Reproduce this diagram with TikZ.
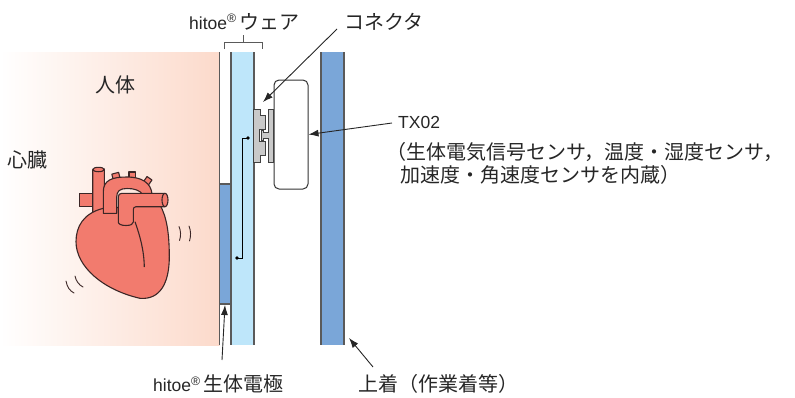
\documentclass[tikz,border=0pt]{standalone}
\usepackage{fontspec}
\setmainfont{Liberation Sans}
\newfontfamily\jp{Noto Sans CJK JP}[Scale=1.143]
\usetikzlibrary{arrows.meta}

\definecolor{skin}{HTML}{FCDACB}
\definecolor{wearblue}{HTML}{BEE6FA}
\definecolor{clothblue}{HTML}{7AA6D8}
\definecolor{edgegray}{HTML}{5A5A5A}
\definecolor{partgray}{HTML}{C9C9C9}
\definecolor{heartred}{HTML}{F27B6E}
\definecolor{heartline}{HTML}{3B2626}

\begin{document}
\begin{tikzpicture}[x=1pt, y=-1pt]
\tikzstyle{every node}=[font=\fontsize{17.5}{21}\selectfont, inner sep=0pt, anchor=base west, text=black!85]
\tikzstyle{edge}=[draw=edgegray, line width=1.2pt]
\tikzstyle{callout}=[draw=black!85, line width=0.9pt, -{Latex[length=10pt, width=7pt]}]
\tikzstyle{heart}=[draw=heartline, line width=1.1pt, fill=heartred, line join=round]
\tikzstyle{plug}=[draw=black!75, line width=0.8pt, fill=partgray]

\useasboundingbox (0, 0) rectangle (795, 397);

\shade[left color=white, right color=skin] (0, 52) rectangle (219.5, 345); % body
    \node (bodylabel) at (95, 92.5) {\jp 人体};
    \node (heartlabel) at (7, 167) {\jp 心臓};
\draw[edge] (219.5, 52) -- (219.5, 345);

\draw[edge, fill=clothblue] (219.5, 184) rectangle (231, 304); % electrode

\fill[wearblue] (231, 52) rectangle (254, 345); % shirt
\draw[edge] (231, 52) -- (231, 345) (254, 52) -- (254, 345);
\draw[edge, line width=1pt] (224, 49) -- (224, 42) -- (262.5, 42) -- (262.5, 49) (243, 42) -- (243, 35);
    \node (wearlabel) at (189, 29) {hitoe\textsuperscript{®}\,{\jp ウェア}};

\fill[clothblue] (321, 52) rectangle (344, 345); % jacket
\draw[edge] (321, 52) -- (321, 345) (344, 52) -- (344, 345);

% heart
\draw[heart] (79.3, 193.3) rectangle (96, 206.7);
\draw[heart] (92.7, 214) -- (92.7, 170) -- (104.3, 169) -- (104.3, 214) -- cycle;
\draw[heart] (98.5, 169.5) ellipse [x radius=5.8pt, y radius=2.2pt];
\draw[heart] (103.3, 208.3) .. controls (83.3, 213.3) and (76, 226.7) .. (76, 241.7)
    .. controls (76, 266.7) and (103.3, 290) .. (140, 298.3)
    .. controls (160, 300) and (169.3, 283.3) .. (169.3, 256.7)
    .. controls (169.3, 233.3) and (166.7, 216.7) .. (160, 205) -- cycle;
\draw[heart, rotate around={15:(117, 180)}] (113.5, 173) rectangle (120.5, 183);
\draw[heart] (129, 172) rectangle (135.5, 182);
\draw[heart, rotate around={-35:(145.5, 184)}] (142.5, 177) rectangle (148.5, 188);
\draw[heart] (103.3, 213.3) -- (103.3, 192) .. controls (103.3, 180) and (112, 177) .. (127, 177)
    .. controls (142, 177) and (151, 183) .. (152, 194) -- (143, 195)
    .. controls (140, 190) and (134, 188.5) .. (127, 188.5)
    .. controls (120, 188.5) and (116.7, 191) .. (116.7, 197) -- (116.7, 213.3) -- cycle;
\draw[heart] (118.3, 197) .. controls (118.3, 194.5) and (119.5, 193.3) .. (122, 193.3) -- (165, 193.3)
    -- (165, 206.7) -- (136, 206.7) .. controls (134, 206.7) and (133.3, 208) .. (133.3, 210)
    -- (133.3, 222) .. controls (133.3, 224) and (131, 225.5) .. (126, 225.5)
    .. controls (121, 225.5) and (118.3, 224) .. (118.3, 222) -- cycle;
\draw[heart] (165, 200) ellipse [x radius=3pt, y radius=6.7pt];
\draw[heartline, line width=1.1pt] (135, 221.7) .. controls (140, 236) and (144, 250) .. (144.3, 267);
\draw[heartline, line width=0.9pt, line cap=round]
    (179, 226.5) .. controls (181, 231) and (181, 236) .. (179.5, 240.5)
    (189, 226) .. controls (191, 231) and (191, 236) .. (189.5, 241)
    (66, 281) .. controls (67, 287) and (70, 291) .. (74, 293)
    (75, 276) .. controls (76, 281) and (79, 285) .. (83, 287);

% wire inside the shirt
\coordinate (wiretop) at (248, 138);
\coordinate (wirebot) at (237, 258);
\draw[line width=0.9pt] (wiretop) -- (242, 138) -- (242, 258) -- (wirebot);
\fill (wiretop) circle [radius=1.8pt] (wirebot) circle [radius=1.8pt];

% TX02 and connector
\node[draw=black!80, line width=1pt, fill=white, rounded corners=5pt, minimum width=34pt, minimum height=109pt, anchor=center] (txbox) at (291, 134.5) {};
\draw[plug] (253.5, 109) -- (260, 109) -- (260, 115.5) -- (265, 115.5) -- (265, 129) -- (259.5, 129)
    -- (259.5, 141.5) -- (265, 141.5) -- (265, 155) -- (260, 155) -- (260, 162) -- (253.5, 162) -- cycle;
\draw[plug] (268, 109) -- (273, 109) -- (273, 162) -- (268, 162) -- (268, 138) -- (263.5, 138)
    -- (263.5, 140) -- (261, 140) -- (261, 130.5) -- (263.5, 130.5) -- (263.5, 132) -- (268, 132) -- cycle;

    \node (cntlabel) at (344, 29.5) {\jp コネクタ};
    \node (txlabel) at (398, 128) {TX02};
    \node (txline2) at (386, 159.5) {\jp （生体電気信号センサ，温度・湿度センサ，};
    \node (txline3) at (400, 182.5) {\jp 加速度・角速度センサを内蔵）};
    \node (ellabel) at (153, 391.5) {hitoe\textsuperscript{®}\,{\jp 生体電極}};
    \node (jklabel) at (358, 391.5) {\jp 上着（作業着等）};

\coordinate (cntfoot) at (337, 29);
\coordinate (cnttip) at (263, 102);
\coordinate (txfoot) at (392, 123);
\coordinate (elfoot) at (222, 360);
\coordinate (eltip) at (225, 305);
\coordinate (jkfoot) at (373, 367);
\coordinate (jktip) at (349, 338);
\draw[callout] (cntfoot) -- (cnttip); % connector
\draw[callout] (txfoot) -- (txbox.east); % TX02
\draw[callout] (elfoot) -- (eltip); % electrode
\draw[callout] (jkfoot) -- (jktip); % jacket

\end{tikzpicture}
\end{document}
